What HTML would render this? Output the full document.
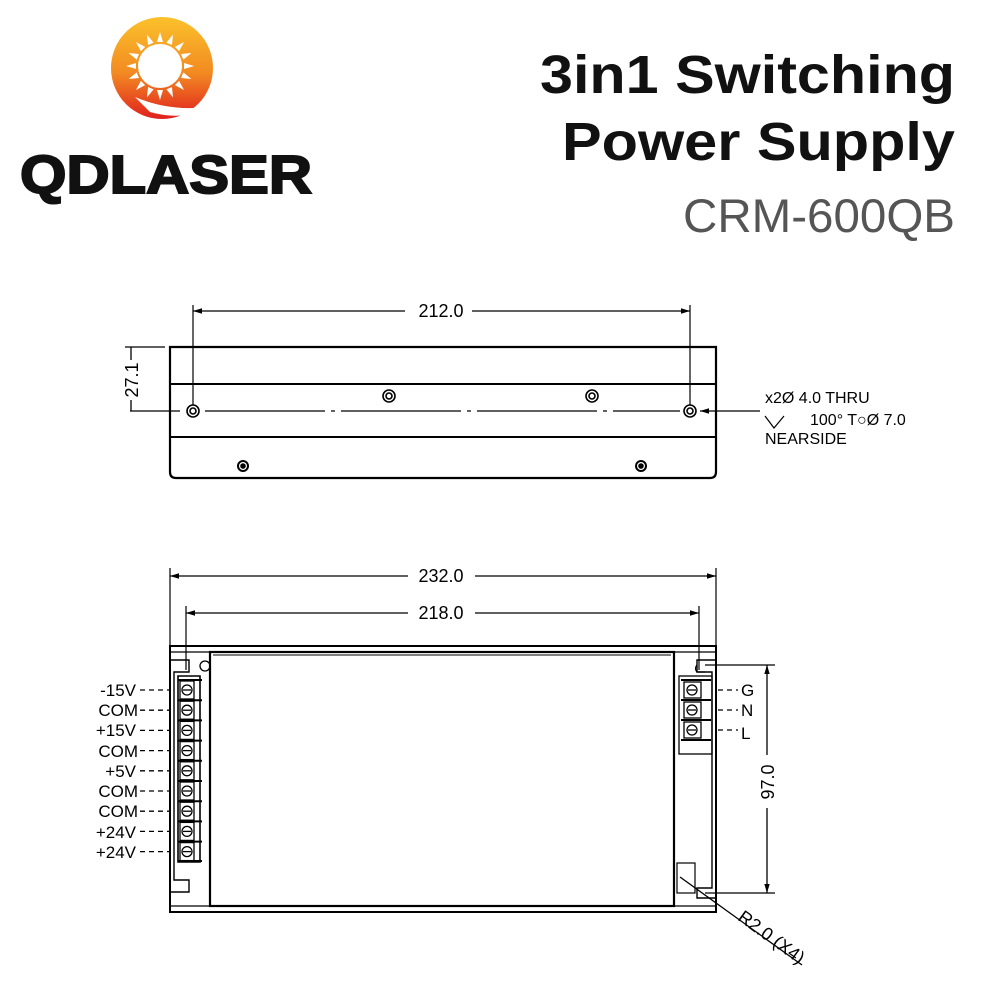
<!DOCTYPE html>
<html><head><meta charset="utf-8"><style>
body{margin:0;background:#fff;}
svg{display:block}
</style></head><body>
<svg width="1000" height="1000" viewBox="0 0 1000 1000" xmlns="http://www.w3.org/2000/svg" font-family="Liberation Sans, sans-serif">
<defs>
<linearGradient id="g" x1="0" y1="0" x2="0" y2="1">
<stop offset="0" stop-color="#fbc22b"/><stop offset="0.55" stop-color="#f28a22"/><stop offset="1" stop-color="#e0201e"/>
</linearGradient>
<marker id="a" viewBox="0 0 10 10" refX="10" refY="5" markerWidth="7" markerHeight="7" orient="auto-start-reverse"><path d="M0,2 L10,5 L0,8 z" fill="#000"/></marker>
</defs>
<!-- logo -->
<circle cx="162" cy="68" r="51" fill="url(#g)"/>
<path d="M135,97 Q175,114 220,105 Q185,122 150,112 Z" fill="#fff"/>
<g fill="#fff" transform="translate(160,66)">
<circle r="22"/>
<g id="ray"><polygon points="-3,-24 0,-34 3,-24"/></g>
<use href="#ray" transform="rotate(22.5)"/><use href="#ray" transform="rotate(45)"/><use href="#ray" transform="rotate(67.5)"/><use href="#ray" transform="rotate(90)"/><use href="#ray" transform="rotate(112.5)"/><use href="#ray" transform="rotate(135)"/><use href="#ray" transform="rotate(157.5)"/><use href="#ray" transform="rotate(180)"/><use href="#ray" transform="rotate(202.5)"/><use href="#ray" transform="rotate(225)"/><use href="#ray" transform="rotate(247.5)"/><use href="#ray" transform="rotate(270)"/><use href="#ray" transform="rotate(292.5)"/><use href="#ray" transform="rotate(315)"/><use href="#ray" transform="rotate(337.5)"/>
</g>
<text x="20" y="193" font-size="54" font-weight="900" fill="#111" textLength="292" lengthAdjust="spacingAndGlyphs" stroke="#111" stroke-width="2">QDLASER</text>
<!-- titles -->
<text x="955" y="93" text-anchor="end" font-size="54" font-weight="bold" fill="#111" textLength="415" lengthAdjust="spacingAndGlyphs">3in1 Switching</text>
<text x="955" y="160" text-anchor="end" font-size="54" font-weight="bold" fill="#111" textLength="393" lengthAdjust="spacingAndGlyphs">Power Supply</text>
<text x="955" y="232" text-anchor="end" font-size="47" fill="#555" textLength="272" lengthAdjust="spacingAndGlyphs">CRM-600QB</text>

<g stroke="#000" fill="none" stroke-width="1.6">
<!-- top view -->
<path d="M170,347 H716 V472 Q716,478 710,478 H176 Q170,478 170,472 Z" stroke-width="2.2"/>
<line x1="170" y1="384" x2="716" y2="384" stroke-width="2"/>
<line x1="170" y1="437" x2="716" y2="437" stroke-width="2"/>
<line x1="130" y1="411" x2="180" y2="411" stroke-width="1.2"/>
<line x1="205" y1="411" x2="680" y2="411" stroke-width="1.2" stroke-dasharray="120,6,4,6"/>
<circle cx="193" cy="411" r="6"/><circle cx="193" cy="411" r="3"/>
<circle cx="690" cy="411" r="6"/><circle cx="690" cy="411" r="3"/>
<circle cx="389" cy="396" r="6"/><circle cx="389" cy="396" r="3"/>
<circle cx="592" cy="396" r="6"/><circle cx="592" cy="396" r="3"/>
<circle cx="243" cy="466" r="5" stroke-width="2"/><circle cx="243" cy="466" r="2" fill="#000"/>
<circle cx="641" cy="466" r="5" stroke-width="2"/><circle cx="641" cy="466" r="2" fill="#000"/>
<line x1="193" y1="305" x2="193" y2="405" stroke-width="1.2"/>
<line x1="690" y1="305" x2="690" y2="405" stroke-width="1.2"/>
<line x1="193" y1="311" x2="405" y2="311" stroke-width="1.3" marker-start="url(#a)"/>
<line x1="472" y1="311" x2="690" y2="311" stroke-width="1.3" marker-end="url(#a)"/>
<line x1="125" y1="347" x2="165" y2="347" stroke-width="1.2"/>
<line x1="131" y1="347" x2="131" y2="360" stroke-width="1.3"/>
<line x1="131" y1="400" x2="131" y2="411" stroke-width="1.3"/>
<line x1="760" y1="411" x2="700" y2="411" stroke-width="1.3" marker-end="url(#a)"/>
<path d="M765,416 L774,428 L784,416" stroke-width="1.2"/>

<!-- bottom view dims -->
<line x1="170" y1="568" x2="170" y2="645" stroke-width="1.2"/>
<line x1="716" y1="568" x2="716" y2="645" stroke-width="1.2"/>
<line x1="186" y1="606" x2="186" y2="670" stroke-width="1.2"/>
<line x1="699" y1="606" x2="699" y2="670" stroke-width="1.2"/>
<line x1="170" y1="576" x2="408" y2="576" stroke-width="1.3" marker-start="url(#a)"/>
<line x1="475" y1="576" x2="716" y2="576" stroke-width="1.3" marker-end="url(#a)"/>
<line x1="186" y1="613" x2="408" y2="613" stroke-width="1.3" marker-start="url(#a)"/>
<line x1="475" y1="613" x2="699" y2="613" stroke-width="1.3" marker-end="url(#a)"/>

<!-- body -->
<rect x="170" y="646" width="546" height="266" stroke-width="2"/>
<line x1="170" y1="652" x2="716" y2="652" stroke-width="1.2"/>
<line x1="170" y1="906" x2="716" y2="906" stroke-width="1.2"/>
<rect x="210" y="652" width="464" height="254" stroke-width="2.2"/>
<line x1="213" y1="655" x2="671" y2="655" stroke-width="1"/>
<path d="M170,660 H189 V672 H174 V880 H189 V892 H170" stroke-width="1.4"/>
<circle cx="205" cy="666" r="5" stroke-width="1.3"/>
<path d="M178,676 H200 V862 H178 Z" stroke-width="1.6"/>
<path d="M716,660 H697 V672 H712 V888 H697 V898 H716" stroke-width="1.4"/>
<path d="M697,665 A5,5 0 0 0 697,672 H705" stroke-width="1.2"/>
<line x1="705" y1="665" x2="775" y2="665" stroke-width="1.2"/>
<line x1="705" y1="893" x2="775" y2="893" stroke-width="1.2"/>
<line x1="767" y1="665" x2="767" y2="755" stroke-width="1.3" marker-start="url(#a)"/>
<line x1="767" y1="808" x2="767" y2="893" stroke-width="1.3" marker-end="url(#a)"/>
<rect x="677" y="863" width="18" height="30" stroke-width="1.2"/>
<rect x="679" y="676" width="33" height="78" stroke-width="1.3"/>
<line x1="680" y1="877" x2="802" y2="965" stroke-width="1.3"/>
</g>
<g stroke="#000" fill="none" stroke-width="1.3">
<g id="tl"><rect x="180" y="681" width="14" height="18"/><circle cx="187" cy="690" r="5"/><line x1="183" y1="690" x2="191" y2="690"/><line x1="178" y1="680" x2="202" y2="680" stroke-width="2"/><line x1="140" y1="690" x2="170" y2="690" stroke-dasharray="5,4"/></g>
<use href="#tl" y="20.2"/><use href="#tl" y="40.4"/><use href="#tl" y="60.6"/><use href="#tl" y="80.8"/><use href="#tl" y="101"/><use href="#tl" y="121.2"/><use href="#tl" y="141.4"/><use href="#tl" y="161.6"/>
<line x1="178" y1="861" x2="202" y2="861" stroke-width="2"/>
<g id="tr"><rect x="684" y="682" width="17" height="16"/><circle cx="692" cy="690" r="5"/><line x1="688" y1="690" x2="696" y2="690"/><line x1="681" y1="680" x2="711" y2="680" stroke-width="2"/><line x1="718" y1="690" x2="738" y2="690" stroke-dasharray="5,4"/></g>
<use href="#tr" y="20"/><use href="#tr" y="40"/>
<line x1="681" y1="740" x2="711" y2="740" stroke-width="2"/>
</g>
<g font-size="17" fill="#000" text-anchor="end">
<text x="136" y="696">-15V</text><text x="138" y="716">COM</text><text x="136" y="736">+15V</text><text x="138" y="757">COM</text><text x="136" y="777">+5V</text><text x="138" y="797">COM</text><text x="138" y="817">COM</text><text x="136" y="838">+24V</text><text x="136" y="858">+24V</text>
</g>
<g font-size="17" fill="#000">
<text x="741" y="696">G</text><text x="741" y="716">N</text><text x="741" y="739">L</text>
</g>
<g font-size="18" fill="#000" text-anchor="middle">
<text x="441" y="317">212.0</text>
<text x="441" y="582">232.0</text>
<text x="441" y="619">218.0</text>
<text transform="translate(138,380) rotate(-90)">27.1</text>
<text transform="translate(774,782) rotate(-90)">97.0</text>
<text transform="translate(768,942) rotate(36)">R2.0 (X4)</text>
</g>
<g font-size="16" fill="#000">
<text x="765" y="403">x2Ø 4.0 THRU</text>
<text x="810" y="425">100° T○Ø 7.0</text>
<text x="765" y="444">NEARSIDE</text>
</g>
</svg>
</body></html>
